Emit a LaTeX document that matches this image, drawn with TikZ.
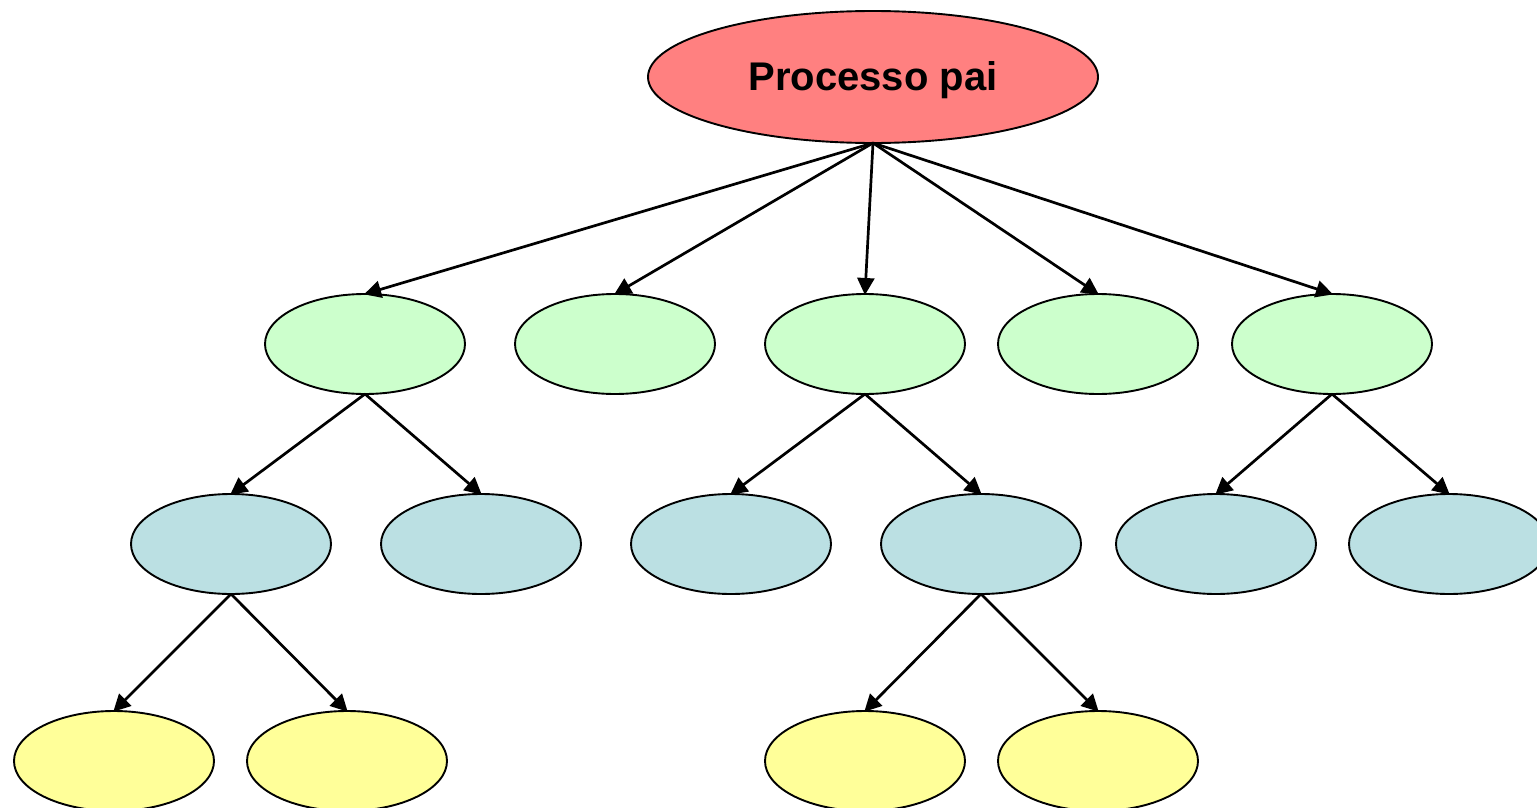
\documentclass[tikz,border=0pt]{standalone}
\usepackage{fontspec}
\setmainfont{Liberation Sans}
\usetikzlibrary{shapes.geometric,arrows.meta}
\definecolor{rootred}{HTML}{FF8080}
\definecolor{lvgreen}{HTML}{CCFFCC}
\definecolor{lvblue}{HTML}{BBE0E3}
\definecolor{lvyellow}{HTML}{FFFF99}
\tikzset{
  oval/.style={ellipse, draw=black, line width=1.9pt, inner sep=0pt, outer sep=0pt,
    minimum width=200pt, minimum height=100pt},
  gnode/.style={oval, fill=lvgreen},
  bnode/.style={oval, fill=lvblue},
  ynode/.style={oval, fill=lvyellow},
  rnode/.style={oval, fill=rootred, minimum width=450pt, minimum height=132pt},
  link/.style={line width=2.7pt, -{Triangle[length=17pt,width=17pt]}, shorten >=-1pt}
}
\begin{document}
\begin{tikzpicture}[x=1pt,y=-1pt]
\useasboundingbox (0,0) rectangle (1537,808);
\clip (0,0) rectangle (1537,808);
\node[rnode] (root) at (873,77) {};
\node (roottext) at (873,80) {\fontsize{40}{48}\selectfont\bfseries Processo pai};
% level 1
\node[gnode] (g1) at (365,344) {};
\node[gnode] (g2) at (615,344) {};
\node[gnode] (g3) at (865,344) {};
\node[gnode] (g4) at (1098,344) {};
\node[gnode] (g5) at (1332,344) {};
% level 2
\node[bnode] (b1) at (231,544) {};
\node[bnode] (b2) at (481,544) {};
\node[bnode] (b3) at (731,544) {};
\node[bnode] (b4) at (981,544) {};
\node[bnode] (b5) at (1216,544) {};
\node[bnode] (b6) at (1449,544) {};
% level 3
\node[ynode] (y1) at (114,761) {};
\node[ynode] (y2) at (347,761) {};
\node[ynode] (y3) at (865,761) {};
\node[ynode] (y4) at (1098,761) {};
% connectors
\foreach \t in {g1,g2,g3,g4,g5} \draw[link] (root.south) -- (\t.north);
\foreach \t in {b1,b2} \draw[link] (g1.south) -- (\t.north);
\foreach \t in {b3,b4} \draw[link] (g3.south) -- (\t.north);
\foreach \t in {b5,b6} \draw[link] (g5.south) -- (\t.north);
\foreach \t in {y1,y2} \draw[link] (b1.south) -- (\t.north);
\foreach \t in {y3,y4} \draw[link] (b4.south) -- (\t.north);
\end{tikzpicture}
\end{document}
